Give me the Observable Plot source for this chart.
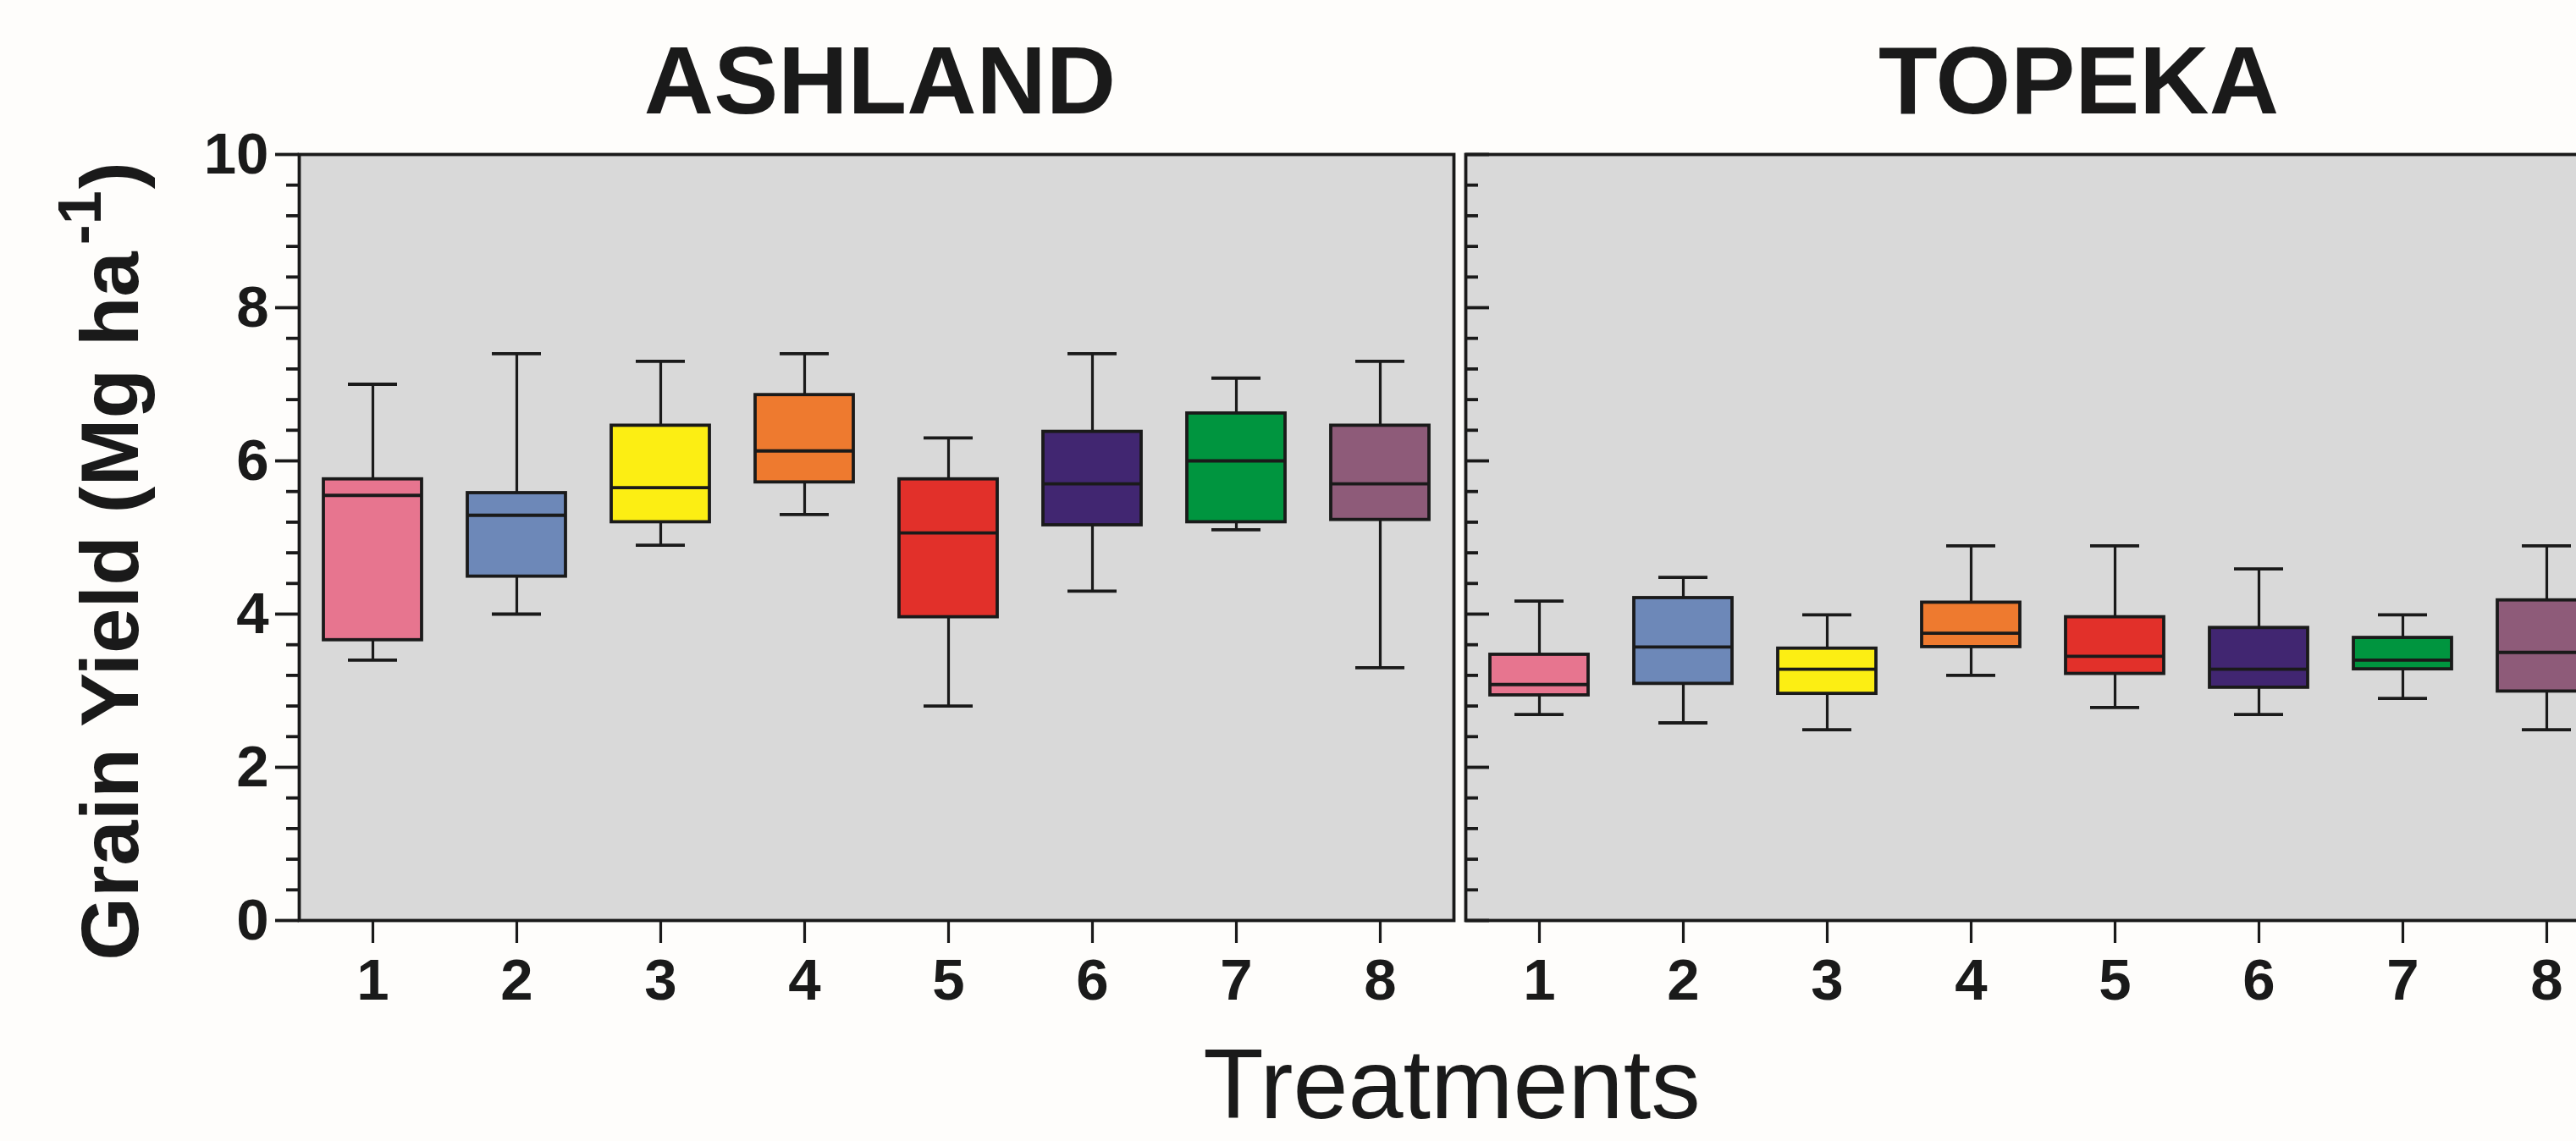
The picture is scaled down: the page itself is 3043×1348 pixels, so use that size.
<!DOCTYPE html>
<html>
<head>
<meta charset="utf-8">
<script src="https://cdn.jsdelivr.net/npm/d3@7"></script>
<script src="https://cdn.jsdelivr.net/npm/@observablehq/plot@0.6"></script>
<style>
  html, body { margin: 0; padding: 0; background: #fefdfb; overflow: hidden; width: 3043px; height: 1348px; }
  #wrap { position: relative; width: 3043px; height: 1348px; overflow: hidden; font-family: "Liberation Sans", Arial, sans-serif; }
  .panel { position: absolute; top: 0; }
  #xlabel { position: absolute; left: 1715px; top: 1222px; transform: translateX(-50%); font-size: 117px; line-height: 117px; color: #1a1a1a; white-space: nowrap; }
</style>
</head>
<body>
<div id="wrap"><div id="xlabel">Treatments</div></div>
<script>
// ---- data ----
const treatments = ["1", "2", "3", "4", "5", "6", "7", "8"];
const colors = ["#e7758f", "#6d88b8", "#fcee13", "#ee7a2f", "#e2302a", "#412671", "#00953f", "#8e5b79"];

const ashlandMin    = [3.40, 4.00, 4.90, 5.30, 2.80, 4.30, 5.10, 3.30];
const ashlandQ1     = [3.66, 4.49, 5.20, 5.72, 3.96, 5.16, 5.20, 5.23];
const ashlandMedian = [5.55, 5.29, 5.65, 6.13, 5.06, 5.70, 6.00, 5.70];
const ashlandQ3     = [5.76, 5.58, 6.46, 6.86, 5.76, 6.38, 6.62, 6.46];
const ashlandMax    = [7.00, 7.40, 7.30, 7.40, 6.30, 7.40, 7.08, 7.30];

const topekaMin    = [2.69, 2.58, 2.49, 3.20, 2.78, 2.69, 2.90, 2.49];
const topekaQ1     = [2.94, 3.09, 2.96, 3.57, 3.22, 3.04, 3.28, 2.99];
const topekaMedian = [3.08, 3.57, 3.28, 3.75, 3.45, 3.28, 3.40, 3.50];
const topekaQ3     = [3.47, 4.21, 3.55, 4.15, 3.96, 3.82, 3.69, 4.18];
const topekaMax    = [4.17, 4.48, 3.99, 4.89, 4.89, 4.59, 3.99, 4.89];

const majorTicks = [0, 2, 4, 6, 8, 10];
const minorTicks = d3.range(0, 10.001, 0.4).filter(v => Math.abs(v / 2 - Math.round(v / 2)) > 1e-6);

// ---- layout ----
const FONT = "Liberation Sans, Arial, sans-serif";
const INK = "#1a1a1a";
const PW = 1364;           // plot-area width of each panel
const TOP = 182, BOTTOM = 261, H = 1348;
const BOX_INSET = 27, CAP_INSET = 56;

function panel({name, min, q1, med, q3, max, marginLeft, titleDx, leftAxis}) {
  const rows = treatments.map((t, i) => ({t, min: min[i], q1: q1[i], med: med[i], q3: q3[i], max: max[i]}));
  const marks = [
    Plot.frame({fill: "#d9d9d9"}),
    Plot.ruleX(rows, {x: "t", y1: "q3", y2: "max", stroke: INK, strokeWidth: 3.2}),
    Plot.ruleX(rows, {x: "t", y1: "min", y2: "q1", stroke: INK, strokeWidth: 3.2}),
    Plot.tickY(rows, {x: "t", y: "max", insetLeft: CAP_INSET, insetRight: CAP_INSET, stroke: INK, strokeWidth: 3.8}),
    Plot.tickY(rows, {x: "t", y: "min", insetLeft: CAP_INSET, insetRight: CAP_INSET, stroke: INK, strokeWidth: 3.8}),
    Plot.barY(rows, {x: "t", y1: "q1", y2: "q3", fill: "t", stroke: INK, strokeWidth: 3.8, insetLeft: BOX_INSET, insetRight: BOX_INSET}),
    Plot.tickY(rows, {x: "t", y: "med", insetLeft: BOX_INSET, insetRight: BOX_INSET, stroke: INK, strokeWidth: 3.8}),
    Plot.frame({stroke: INK, strokeWidth: 3.8}),
    Plot.axisX({tickSize: 27, tickPadding: 17, fontSize: 69, fontWeight: "bold", strokeWidth: 3.2, label: null}),
    Plot.text([name], {frameAnchor: "top", lineAnchor: "bottom", dy: -49, dx: titleDx, fontSize: 114, fontWeight: "bold", fill: INK})
  ];
  if (leftAxis) {
    marks.push(Plot.axisY(majorTicks, {anchor: "left", tickSize: 28, tickPadding: 8, fontSize: 69, fontWeight: "bold", strokeWidth: 3.8, tickFormat: d3.format("d"), label: null}));
    marks.push(Plot.axisY(minorTicks, {anchor: "left", tickSize: 15, tickFormat: () => "", strokeWidth: 3.8, label: null}));
  } else {
    marks.push(Plot.tickY(majorTicks, {y: d => d, insetRight: PW - 28, stroke: INK, strokeWidth: 3.8}));
    marks.push(Plot.tickY(minorTicks, {y: d => d, insetRight: PW - 15, stroke: INK, strokeWidth: 3.8}));
  }
  return Plot.plot({
    width: marginLeft + PW + 8,
    height: H,
    marginLeft, marginRight: 8, marginTop: TOP, marginBottom: BOTTOM,
    x: {domain: treatments, padding: 0, axis: null},
    y: {domain: [0, 10], axis: null},
    color: {domain: treatments, range: colors},
    style: {background: "transparent", maxWidth: "none", fontFamily: FONT, color: INK, overflow: "visible"},
    marks
  });
}

const wrap = document.getElementById("wrap");

const svgA = panel({name: "ASHLAND", min: ashlandMin, q1: ashlandQ1, med: ashlandMedian, q3: ashlandQ3, max: ashlandMax,
  marginLeft: 353, titleDx: 4, leftAxis: true});
svgA.classList.add("panel");
svgA.style.left = "0px";
wrap.appendChild(svgA);

// y-axis title with superscript
const lab = d3.select(svgA).append("text")
  .attr("transform", "translate(163,663) rotate(-90)")
  .attr("text-anchor", "middle")
  .attr("font-family", FONT)
  .attr("font-size", 96)
  .attr("font-weight", "bold")
  .attr("fill", INK);
lab.append("tspan").text("Grain Yield (Mg ha");
lab.append("tspan").attr("dx", 8).attr("dy", -44).attr("font-size", 72).text("-1");
lab.append("tspan").attr("dx", 2).attr("dy", 44).text(")");

const svgB = panel({name: "TOPEKA", min: topekaMin, q1: topekaQ1, med: topekaMedian, q3: topekaQ3, max: topekaMax,
  marginLeft: 31, titleDx: 42, leftAxis: false});
svgB.classList.add("panel");
svgB.style.left = "1700px";
wrap.appendChild(svgB);
</script>
</body>
</html>
